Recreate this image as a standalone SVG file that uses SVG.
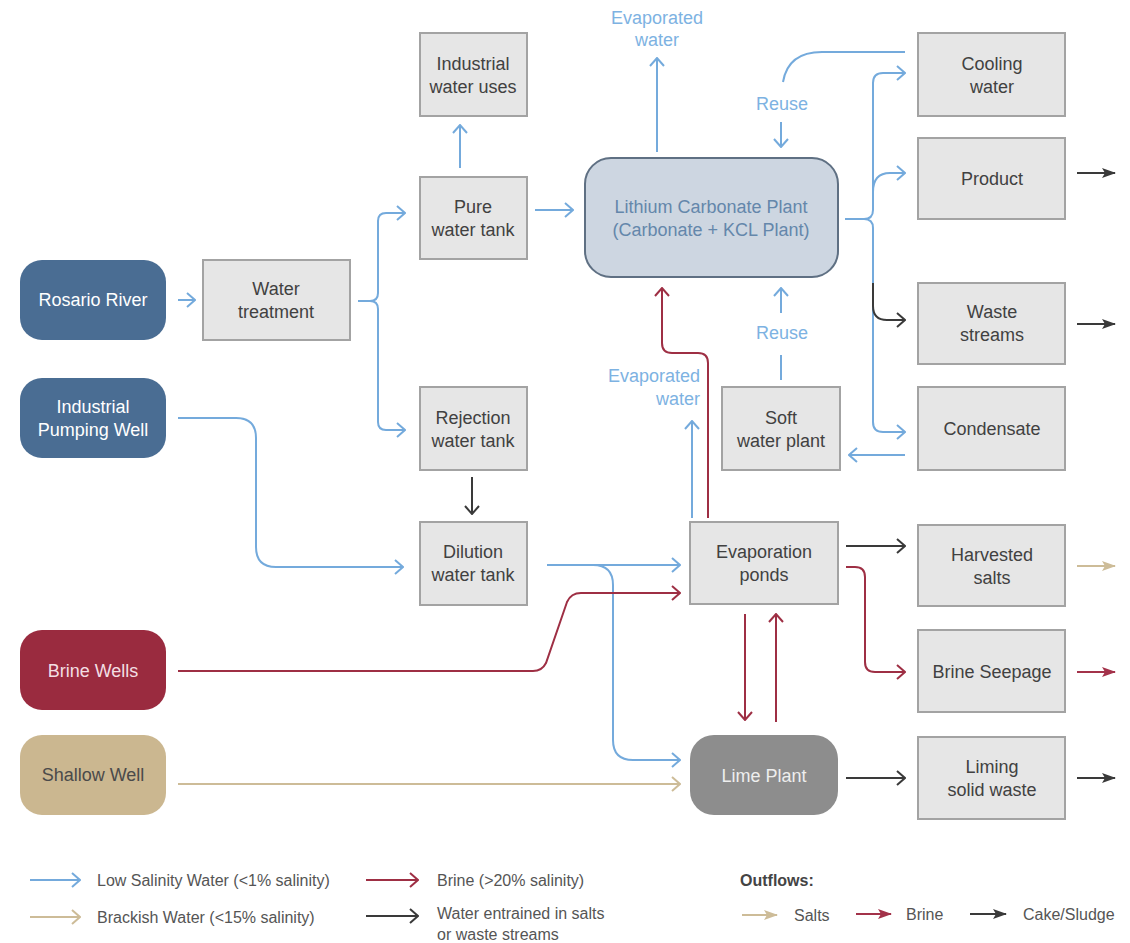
<svg xmlns="http://www.w3.org/2000/svg" width="1130" height="943" viewBox="0 0 1130 943">
<style>
text{font-family:"Liberation Sans",Arial,sans-serif;font-size:18px;text-anchor:middle}
.box{fill:#e6e6e6;stroke:#a3a3a3;stroke-width:2}
.nt{fill:#414141}
.src{stroke:none}
.lbl{fill:#7db2e2}
.lg{font-size:16px;fill:#555;text-anchor:start}
.c{fill:none;stroke-width:2}
.b{stroke:#74aadc}
.r{stroke:#9e2f44}
.k{stroke:#3a3a3a}
.t{stroke:#cdbc98}
</style>
<defs>
<marker id="ab" viewBox="0 0 10 16" refX="9" refY="8" markerWidth="10" markerHeight="16" markerUnits="userSpaceOnUse" orient="auto"><path d="M1,1 L9,8 L1,15" fill="none" stroke="#74aadc" stroke-width="2"/></marker>
<marker id="ar" viewBox="0 0 10 16" refX="9" refY="8" markerWidth="10" markerHeight="16" markerUnits="userSpaceOnUse" orient="auto"><path d="M1,1 L9,8 L1,15" fill="none" stroke="#9e2f44" stroke-width="2"/></marker>
<marker id="ak" viewBox="0 0 10 16" refX="9" refY="8" markerWidth="10" markerHeight="16" markerUnits="userSpaceOnUse" orient="auto"><path d="M1,1 L9,8 L1,15" fill="none" stroke="#3a3a3a" stroke-width="2"/></marker>
<marker id="at" viewBox="0 0 10 16" refX="9" refY="8" markerWidth="10" markerHeight="16" markerUnits="userSpaceOnUse" orient="auto"><path d="M1,1 L9,8 L1,15" fill="none" stroke="#cdbc98" stroke-width="2"/></marker>
<marker id="fk" viewBox="0 0 14 10" refX="13" refY="5" markerWidth="14" markerHeight="10" markerUnits="userSpaceOnUse" orient="auto"><path d="M0,0 L14,5 L0,10 L3,5 Z" fill="#3a3a3a"/></marker>
<marker id="fr" viewBox="0 0 14 10" refX="13" refY="5" markerWidth="14" markerHeight="10" markerUnits="userSpaceOnUse" orient="auto"><path d="M0,0 L14,5 L0,10 L3,5 Z" fill="#a3324a"/></marker>
<marker id="ft" viewBox="0 0 14 10" refX="13" refY="5" markerWidth="14" markerHeight="10" markerUnits="userSpaceOnUse" orient="auto"><path d="M0,0 L14,5 L0,10 L3,5 Z" fill="#cdbc98"/></marker>
</defs>
<rect width="1130" height="943" fill="#ffffff"/>

<g id="rosario-river"><rect x="20" y="260" width="146" height="80" rx="22" fill="#4a6d93"/><text x="93" y="306" fill="#ffffff">Rosario River</text></g>
<g id="industrial-pumping-well"><rect x="20" y="378" width="146" height="80" rx="22" fill="#4a6d93"/><text x="93" y="413" fill="#ffffff">Industrial</text><text x="93" y="436" fill="#ffffff">Pumping Well</text></g>
<g id="brine-wells"><rect x="20" y="630" width="146" height="80" rx="22" fill="#9a2b3f"/><text x="93" y="677" fill="#f3dfe3">Brine Wells</text></g>
<g id="shallow-well"><rect x="20" y="735" width="146" height="80" rx="22" fill="#cbb790"/><text x="93" y="781" fill="#4a4a4a">Shallow Well</text></g>

<g id="water-treatment"><rect class="box" x="203" y="260" width="147" height="80"/><text class="nt" x="276" y="295">Water</text><text class="nt" x="276" y="318">treatment</text></g>
<g id="industrial-water-uses"><rect class="box" x="420" y="33" width="107" height="83"/><text class="nt" x="473" y="70">Industrial</text><text class="nt" x="473" y="93">water uses</text></g>
<g id="pure-water-tank"><rect class="box" x="420" y="177" width="107" height="82"/><text class="nt" x="473" y="213">Pure</text><text class="nt" x="473" y="236">water tank</text></g>
<g id="rejection-water-tank"><rect class="box" x="420" y="387" width="107" height="83"/><text class="nt" x="473" y="424">Rejection</text><text class="nt" x="473" y="447">water tank</text></g>
<g id="dilution-water-tank"><rect class="box" x="420" y="522" width="107" height="83"/><text class="nt" x="473" y="558">Dilution</text><text class="nt" x="473" y="581">water tank</text></g>

<g id="lithium-carbonate-plant"><rect x="585" y="158" width="253" height="119" rx="26" fill="#cdd6e1" stroke="#5f7083" stroke-width="2"/><text x="711" y="213" fill="#6487ab">Lithium Carbonate Plant</text><text x="711" y="236" fill="#6487ab">(Carbonate + KCL Plant)</text></g>

<g id="cooling-water"><rect class="box" x="918" y="33" width="147" height="83"/><text class="nt" x="992" y="70">Cooling</text><text class="nt" x="992" y="93">water</text></g>
<g id="product"><rect class="box" x="918" y="138" width="147" height="81"/><text class="nt" x="992" y="185">Product</text></g>
<g id="waste-streams"><rect class="box" x="918" y="283" width="147" height="81"/><text class="nt" x="992" y="318">Waste</text><text class="nt" x="992" y="341">streams</text></g>
<g id="condensate"><rect class="box" x="918" y="387" width="147" height="83"/><text class="nt" x="992" y="435">Condensate</text></g>
<g id="soft-water-plant"><rect class="box" x="722" y="387" width="118" height="83"/><text class="nt" x="781" y="424">Soft</text><text class="nt" x="781" y="447">water plant</text></g>
<g id="evaporation-ponds"><rect class="box" x="690" y="522" width="148" height="82"/><text class="nt" x="764" y="558">Evaporation</text><text class="nt" x="764" y="581">ponds</text></g>
<g id="harvested-salts"><rect class="box" x="918" y="525" width="147" height="81"/><text class="nt" x="992" y="561">Harvested</text><text class="nt" x="992" y="584">salts</text></g>
<g id="brine-seepage"><rect class="box" x="918" y="630" width="147" height="82"/><text class="nt" x="992" y="678">Brine Seepage</text></g>
<g id="lime-plant"><rect x="690" y="735" width="148" height="80" rx="24" fill="#8d8d8d"/><text x="764" y="782" fill="#eeeeee">Lime Plant</text></g>
<g id="liming-solid-waste"><rect class="box" x="918" y="737" width="147" height="82"/><text class="nt" x="992" y="773">Liming</text><text class="nt" x="992" y="796">solid waste</text></g>

<g id="connectors">
<path class="c b" d="M178,300 L195,300" marker-end="url(#ab)"/>
<path class="c b" d="M358,301 L370,301 Q378,301 378,293 L378,221 Q378,213 386,213 L405,213" marker-end="url(#ab)"/>
<path class="c b" d="M370,301 Q378,301 378,309 L378,422 Q378,430 386,430 L405,430" marker-end="url(#ab)"/>
<path class="c b" d="M460,168 L460,125" marker-end="url(#ab)"/>
<path class="c b" d="M535,210 L573,210" marker-end="url(#ab)"/>
<path class="c k" d="M472,477 L472,514" marker-end="url(#ak)"/>
<path class="c b" d="M178,418 L236,418 Q256,418 256,438 L256,547 Q256,567 276,567 L403,567" marker-end="url(#ab)"/>
<path class="c b" d="M547,565 L680,565" marker-end="url(#ab)"/>
<path class="c b" d="M593,565 Q613,565 613,585 L613,740 Q613,760 633,760 L680,760" marker-end="url(#ab)"/>
<path class="c r" d="M178,671 L533,671 Q542,671 546,663 L567,602 Q571,593 581,593 L680,593" marker-end="url(#ar)"/>
<path class="c t" d="M178,784 L680,784" marker-end="url(#at)"/>
<path class="c r" d="M745,614 L745,720" marker-end="url(#ar)"/>
<path class="c r" d="M776,722 L776,614" marker-end="url(#ar)"/>
<path class="c k" d="M846,546 L905,546" marker-end="url(#ak)"/>
<path class="c r" d="M846,567 L855,567 Q865,567 865,577 L865,662 Q865,672 875,672 L905,672" marker-end="url(#ar)"/>
<path class="c k" d="M846,778 L905,778" marker-end="url(#ak)"/>
<path class="c b" d="M692,518 L692,421" marker-end="url(#ab)"/>
<path class="c r" d="M708,518 L708,363 Q708,353 698,353 L672,353 Q662,353 662,343 L662,288" marker-end="url(#ar)"/>
<path class="c b" d="M657,152 L657,58" marker-end="url(#ab)"/>
<path class="c b" d="M905,52 L822,52 Q788,52 783,82"/>
<path class="c b" d="M781,122 L781,147" marker-end="url(#ab)"/>
<path class="c b" d="M781,380 L781,355"/>
<path class="c b" d="M781,313 L781,288" marker-end="url(#ab)"/>
<path class="c b" d="M905,455 L849,455" marker-end="url(#ab)"/>
<path class="c b" d="M845,219 L864,219 Q873,219 873,210 L873,83 Q873,73 883,73 L905,73" marker-end="url(#ab)"/>
<path class="c b" d="M873,192 Q873,173 890,173 L905,173" marker-end="url(#ab)"/>
<path class="c b" d="M864,219 Q873,219 873,228 L873,422 Q873,432 883,432 L905,432" marker-end="url(#ab)"/>
<path class="c k" d="M873,283 L873,306 Q873,320 887,320 L905,320" marker-end="url(#ak)"/>
<path class="c k" d="M1077,173 L1115,173" marker-end="url(#fk)"/>
<path class="c k" d="M1077,324 L1115,324" marker-end="url(#fk)"/>
<path class="c t" d="M1077,566 L1115,566" marker-end="url(#ft)"/>
<path class="c" stroke="#a3324a" d="M1077,672 L1115,672" marker-end="url(#fr)"/>
<path class="c k" d="M1077,778 L1115,778" marker-end="url(#fk)"/>
</g>

<g id="labels">
<text class="lbl" x="657" y="24">Evaporated</text>
<text class="lbl" x="657" y="46">water</text>
<text class="lbl" x="782" y="110">Reuse</text>
<text class="lbl" x="782" y="339">Reuse</text>
<text class="lbl" x="700" y="382" style="text-anchor:end">Evaporated</text>
<text class="lbl" x="700" y="405" style="text-anchor:end">water</text>
</g>

<g id="legend">
<path class="c b" d="M30,880 L80,880" marker-end="url(#ab)"/>
<text class="lg" x="97" y="886">Low Salinity Water (&lt;1% salinity)</text>
<path class="c t" d="M30,917 L80,917" marker-end="url(#at)"/>
<text class="lg" x="97" y="923">Brackish Water (&lt;15% salinity)</text>
<path class="c r" d="M366,880 L418,880" marker-end="url(#ar)"/>
<text class="lg" x="437" y="886">Brine (&gt;20% salinity)</text>
<path class="c k" d="M366,916 L418,916" marker-end="url(#ak)"/>
<text class="lg" x="437" y="919">Water entrained in salts</text>
<text class="lg" x="437" y="940">or waste streams</text>
<text class="lg" x="740" y="886" style="font-weight:bold;fill:#444">Outflows:</text>
<path class="c t" d="M742,915 L777,915" marker-end="url(#ft)"/>
<text class="lg" x="794" y="921">Salts</text>
<path class="c" stroke="#a3324a" d="M856,914 L891,914" marker-end="url(#fr)"/>
<text class="lg" x="906" y="920">Brine</text>
<path class="c k" d="M970,914 L1006,914" marker-end="url(#fk)"/>
<text class="lg" x="1023" y="920">Cake/Sludge</text>
</g>
</svg>
